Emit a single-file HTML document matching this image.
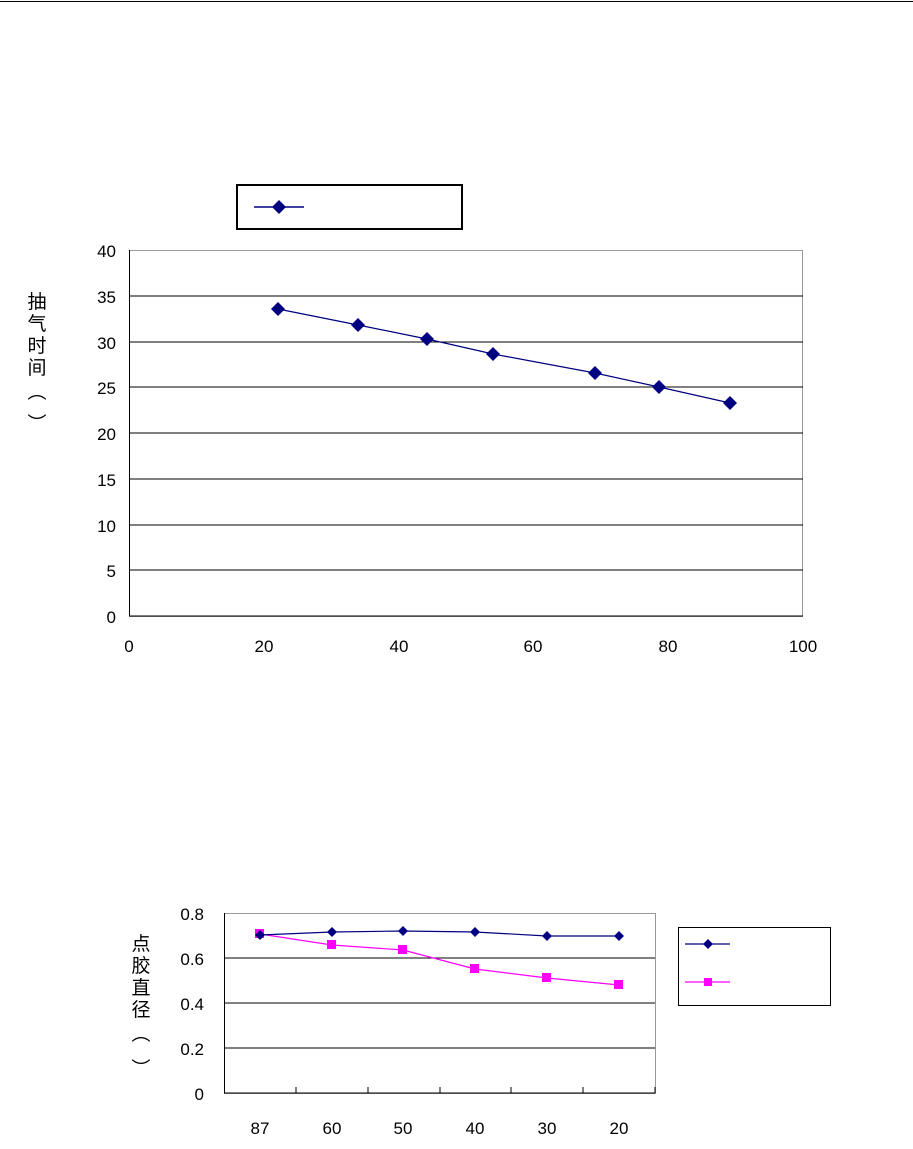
<!DOCTYPE html>
<html><head><meta charset="utf-8"><style>
body{margin:0;background:#fff;width:913px;height:1144px;overflow:hidden}
text{font-family:"Liberation Sans","Noto Sans CJK SC",sans-serif;font-size:17px;fill:#000}
.c{font-family:"Noto Sans CJK SC",sans-serif;font-size:19px}
</style></head><body>
<svg width="913" height="1144" xmlns="http://www.w3.org/2000/svg">
<line x1="0" y1="1.5" x2="913" y2="1.5" stroke="#000" stroke-width="1"/>
<rect x="237" y="185" width="225" height="44" fill="#fff" stroke="#000" stroke-width="2"/>
<line x1="254" y1="207" x2="304" y2="207" stroke="#000080" stroke-width="1.5"/>
<path d="M279 200 L286 207 L279 214 L272 207Z" fill="#000080"/>
<rect x="129.5" y="250.5" width="673" height="366" fill="#fff" stroke="#999"/>
<g stroke="#000" stroke-width="1">
<line x1="129" y1="296" x2="803" y2="296"/><line x1="129" y1="342" x2="803" y2="342"/>
<line x1="129" y1="387" x2="803" y2="387"/><line x1="129" y1="433" x2="803" y2="433"/>
<line x1="129" y1="479" x2="803" y2="479"/><line x1="129" y1="525" x2="803" y2="525"/>
<line x1="129" y1="570" x2="803" y2="570"/><line x1="129" y1="616" x2="803" y2="616"/>
<line x1="129.5" y1="250" x2="129.5" y2="616"/>
</g>
<g text-anchor="end"><text x="116" y="257">40</text><text x="116" y="303">35</text><text x="116" y="349">30</text><text x="116" y="394">25</text><text x="116" y="440">20</text><text x="116" y="486">15</text><text x="116" y="532">10</text><text x="116" y="577">5</text><text x="116" y="623">0</text></g>
<g text-anchor="middle"><text x="129" y="652">0</text><text x="264" y="652">20</text><text x="399" y="652">40</text><text x="533" y="652">60</text><text x="668" y="652">80</text><text x="803" y="652">100</text></g>
<g text-anchor="middle"><text class="c" x="37" y="308">抽</text><text class="c" x="37" y="330">气</text><text class="c" x="37" y="352">时</text><text class="c" x="37" y="374">间</text><text class="c" x="37" y="398">︵</text><text class="c" x="37" y="430">︶</text></g>
<polyline points="278,309 358,325 427,339 493,354 595,373 659,387 730,403" fill="none" stroke="#000080" stroke-width="1.2"/>
<g fill="#000080">
<path d="M278 302l7 7-7 7-7-7z"/><path d="M358 318l7 7-7 7-7-7z"/><path d="M427 332l7 7-7 7-7-7z"/><path d="M493 347l7 7-7 7-7-7z"/><path d="M595 366l7 7-7 7-7-7z"/><path d="M659 380l7 7-7 7-7-7z"/><path d="M730 396l7 7-7 7-7-7z"/>
</g>
<rect x="224.5" y="913.5" width="431" height="180" fill="#fff" stroke="#999"/>
<g stroke="#000" stroke-width="1">
<line x1="224" y1="958" x2="655" y2="958"/><line x1="224" y1="1003" x2="655" y2="1003"/><line x1="224" y1="1048" x2="655" y2="1048"/><line x1="224" y1="1093" x2="655" y2="1093"/>
<line x1="224.5" y1="913" x2="224.5" y2="1093"/>
<line x1="296" y1="1087" x2="296" y2="1093"/><line x1="368" y1="1087" x2="368" y2="1093"/><line x1="440" y1="1087" x2="440" y2="1093"/><line x1="511" y1="1087" x2="511" y2="1093"/><line x1="583" y1="1087" x2="583" y2="1093"/><line x1="655" y1="1087" x2="655" y2="1093"/>
</g>
<g text-anchor="end"><text x="204" y="920">0.8</text><text x="204" y="965">0.6</text><text x="204" y="1010">0.4</text><text x="204" y="1055">0.2</text><text x="204" y="1100">0</text></g>
<g text-anchor="middle"><text x="260" y="1134">87</text><text x="332" y="1134">60</text><text x="403" y="1134">50</text><text x="475" y="1134">40</text><text x="547" y="1134">30</text><text x="619" y="1134">20</text></g>
<g text-anchor="middle"><text class="c" x="141" y="950">点</text><text class="c" x="141" y="972">胶</text><text class="c" x="141" y="994">直</text><text class="c" x="141" y="1016">径</text><text class="c" x="141" y="1040">︵</text><text class="c" x="141" y="1075">︶</text></g>
<polyline points="260,934 332,945 403,950 475,969 547,978 619,985" fill="none" stroke="#ff00ff" stroke-width="1.2"/>
<g fill="#ff00ff"><rect x="255" y="929" width="9" height="9"/><rect x="327" y="940" width="9" height="9"/><rect x="398" y="945" width="9" height="9"/><rect x="470" y="964" width="9" height="9"/><rect x="542" y="973" width="9" height="9"/><rect x="614" y="980" width="9" height="9"/></g>
<polyline points="260,935 332,932 403,931 475,932 547,936 619,936" fill="none" stroke="#000080" stroke-width="1.2"/>
<g fill="#000080"><path d="M260 930l5 5-5 5-5-5z"/><path d="M332 927l5 5-5 5-5-5z"/><path d="M403 926l5 5-5 5-5-5z"/><path d="M475 927l5 5-5 5-5-5z"/><path d="M547 931l5 5-5 5-5-5z"/><path d="M619 931l5 5-5 5-5-5z"/></g>
<rect x="678.5" y="927.5" width="152" height="78" fill="#fff" stroke="#000"/>
<line x1="685" y1="944" x2="730" y2="944" stroke="#000080" stroke-width="1.2"/>
<path d="M708 939l5 5-5 5-5-5z" fill="#000080"/>
<line x1="685" y1="982" x2="730" y2="982" stroke="#ff00ff" stroke-width="1.2"/>
<rect x="704" y="978" width="8" height="8" fill="#ff00ff"/>
</svg>
</body></html>
